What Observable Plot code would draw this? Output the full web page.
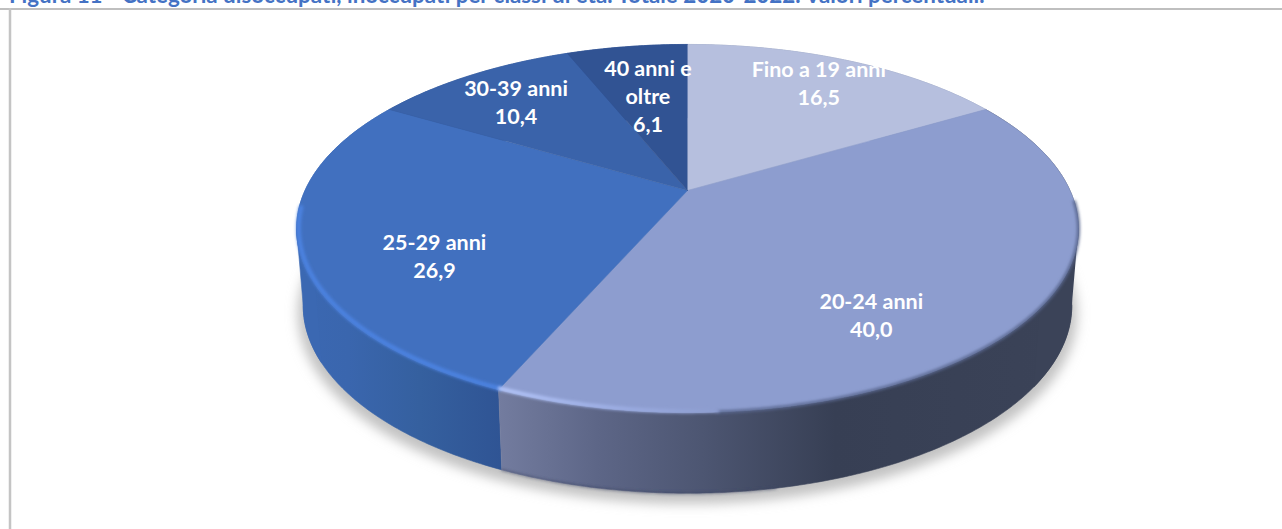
<!DOCTYPE html>
<html lang="it">
<head>
<meta charset="utf-8">
<script src="https://cdn.jsdelivr.net/npm/d3@7"></script>
<script src="https://cdn.jsdelivr.net/npm/@observablehq/plot@0.6"></script>
<style>
  html, body { margin: 0; padding: 0; background: #fff; overflow: hidden; }
  #title { position: absolute; left: 9px; top: -18px; font: bold 22.35px/26px Lato, sans-serif; color: #4472c4; white-space: nowrap; z-index: 2; }
  #chart { position: absolute; left: 0; top: 0; }
</style>
</head>
<body>
<div id="title">Figura 11 - Categoria disoccupati, inoccupati per classi di età. Totale 2020-2022. Valori percentuali.</div>
<div id="chart"></div>
<script>
// Data
const categories = ["Fino a 19 anni", "20-24 anni", "25-29 anni", "30-39 anni", "40 anni e\noltre"];
const values = [16.5, 40.0, 26.9, 10.4, 6.1];

// Styles and layout
const topColors = ["#b6bfde", "#8d9dcf", "#4170bf", "#3a63aa", "#315393"];
const labelRadius = [0.79, 0.59, 0.666, 0.77, 0.61];
const labelDrop = [-3, 48.5, 27, 2, -1.5];

const W = 1282, H = 529;
const cx = 687, cy = 190, a = 382.5, b = 176.2, k = 0.2065;
const midY = 228;
const lowSx = 0.983, lowSy = 1.02, lowCy = 305;

// Perspective view of the disc: turn 0 at the top, clockwise
function project(turn, r = 1) {
  const u = r * Math.sin(2 * Math.PI * turn), v = r * Math.cos(2 * Math.PI * turn);
  const d = 1 + k * v;
  return { x: cx + a * u / d, y: cy - b * v / d };
}
function projectLow(turn) {
  const p = project(turn);
  return { x: cx + lowSx * (p.x - cx), y: lowCy + lowSy * (p.y - midY) };
}
function arc(t0, t1, fn, r) {
  const n = Math.max(2, Math.ceil(Math.abs(t1 - t0) * 720));
  return d3.range(n + 1).map(i => fn(t0 + (t1 - t0) * i / n, r));
}

const total = d3.sum(values);
const cumulative = d3.cumsum(values).map(v => v / total);
const slices = categories.map((c, i) => ({
  i, t0: i ? cumulative[i - 1] : 0, t1: cumulative[i]
}));

const centre = { x: cx, y: cy };
const topFace = s => [centre, ...arc(s.t0, s.t1, project)];
const sideFace = s => [...arc(s.t0, s.t1, project), ...arc(s.t1, s.t0, projectLow)];
const band = (t0, t1) => [...arc(t0, t1, project), ...arc(t1, t0, projectLow)];

const shadow = d3.range(0, 1.0001, 1 / 360).map(t => {
  const p = projectLow(t);
  return { x: cx + 1.014 * (p.x - cx), y: lowCy + 8 + 1.014 * (p.y - lowCy) };
});

const labels = slices.map(s => {
  const p = project((s.t0 + s.t1) / 2, labelRadius[s.i]);
  return {
    x: p.x, y: p.y + labelDrop[s.i],
    text: categories[s.i] + "\n" + values[s.i].toFixed(1).replace(".", ",")
  };
});

const gradient = (d, id, stops) => {
  d.append("linearGradient").attr("id", id)
    .selectAll("stop").data(stops).join("stop")
    .attr("offset", s => s[0]).attr("stop-color", s => s[1]);
};
const blur = (d, id, s) => {
  d.append("filter").attr("id", id).attr("filterUnits", "userSpaceOnUse")
    .attr("x", 0).attr("y", 0).attr("width", W).attr("height", H)
    .append("feGaussianBlur").attr("stdDeviation", s);
};
const defs = () => {
  const d = d3.create("svg:defs");
  gradient(d, "sideGrey", [[0, "#737c9f"], [0.17, "#5d6687"], [0.35, "#4d5672"], [0.58, "#373f54"], [1, "#3b4358"]]);
  gradient(d, "sideBlue", [[0, "#3b68b2"], [0.25, "#3a66ae"], [0.6, "#35609f"], [1, "#2f5494"]]);
  gradient(d, "rimGrey", [[0, "#b4c6fa"], [0.55, "#9cade3"], [1, "#8d9dcf"]]);
  blur(d, "blurShadow", 6);
  blur(d, "blurRim", 1.5);
  return d.node();
};
const withFilter = id => (index, scales, values, dims, context, next) => {
  const g = next(index, scales, values, dims, context);
  g.setAttribute("filter", `url(#${id})`);
  return g;
};

const face = (pts, color) => Plot.line(pts, {x: "x", y: "y", fill: color, stroke: color, strokeWidth: 0.6, curve: "linear"});
const rim = (pts, color, w) => Plot.line(pts, {x: "x", y: "y", stroke: color, strokeWidth: w, render: withFilter("blurRim"), curve: "linear"});

const sideColors = ["#8f98b6", "url(#sideGrey)", "url(#sideBlue)", "#2f5494", "#2f5494"];

const chart = Plot.plot({
  width: W, height: H, margin: 0,
  x: {domain: [0, W], range: [0, W], axis: null},
  y: {domain: [0, H], range: [0, H], axis: null},
  marks: [
    defs,
    Plot.line(shadow, {x: "x", y: "y", fill: "#c2c2c2", stroke: "none", render: withFilter("blurShadow"), curve: "linear"}),
    Plot.ruleY([8.5], {stroke: "#bfbfbf", strokeWidth: 2}),
    Plot.ruleX([9.5], {stroke: "#c4c4c4", strokeWidth: 2.5, y1: 8, y2: H}),
    ...[3, 4, 0, 2, 1].map(i => face(sideFace(slices[i]), sideColors[i])),
    face(band(0.67, 0.717), "#3b68b2"),
    face(band(0.283, 0.35), "#3b4358"),
    rim(arc(0.47, slices[1].t1, projectLow), "#3b4360", 1.2),
    ...slices.map(s => face(topFace(s), topColors[s.i])),
    rim(arc(0.26, 0.49, project, 1.0), "#5a6890", 3),
    rim(arc(slices[1].t1, 0.735, project, 0.995), "#4b82e0", 4.5),
    rim(arc(0.49, slices[1].t1, project, 0.995), "url(#rimGrey)", 4),
    Plot.text(labels, {x: "x", y: "y", text: "text", fill: "white", fontFamily: "Lato, sans-serif", fontWeight: 700, fontSize: 21.5, lineHeight: 1.31})
  ]
});
document.getElementById("chart").append(chart);
</script>
</body>
</html>
